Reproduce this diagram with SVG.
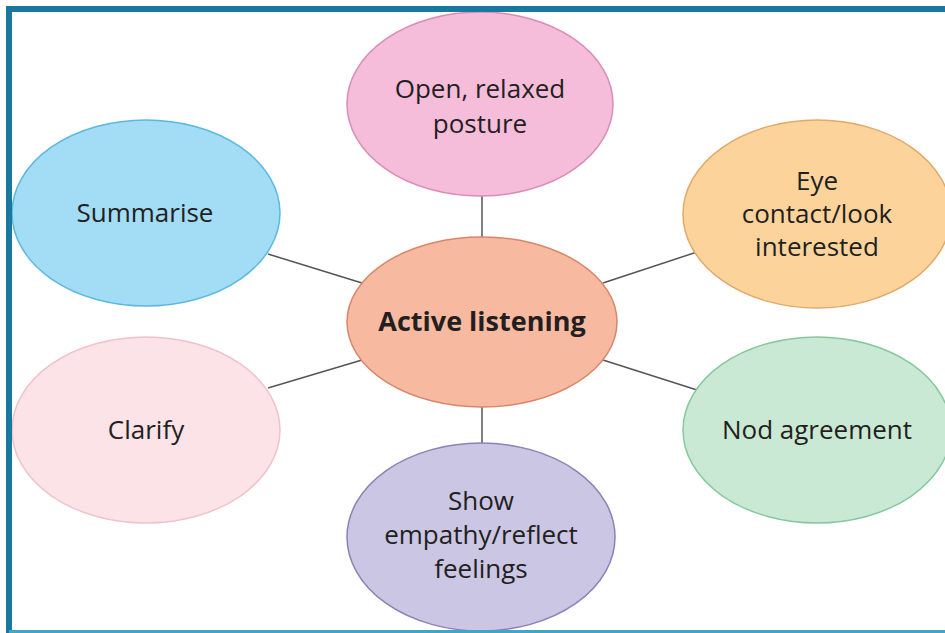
<svg xmlns="http://www.w3.org/2000/svg" width="945" height="633" viewBox="0 0 945 633">
<style>
.t{font-family:"Open Sans","Liberation Sans",sans-serif;font-size:26px;fill:#231f20;text-anchor:middle}
.b{font-weight:bold;font-size:27px}
.c{stroke:#555;stroke-width:1.5;fill:none}
.n{stroke-width:1.5}
</style>
<rect x="0" y="0" width="945" height="633" fill="#fff"/>
<g id="connectors">
<line class="c" x1="482" y1="196" x2="482" y2="238"/>
<line class="c" x1="482" y1="407" x2="482" y2="444"/>
<line class="c" x1="268" y1="254" x2="362" y2="283"/>
<line class="c" x1="268" y1="388" x2="362" y2="360"/>
<line class="c" x1="603" y1="283" x2="697" y2="252"/>
<line class="c" x1="603" y1="360" x2="697" y2="390"/>
</g>
<g id="posture">
<ellipse class="n" cx="480" cy="104" rx="133" ry="92" fill="#f6bddb" stroke="#d98cb6"/>
<text class="t" x="480" y="98">Open, relaxed</text>
<text class="t" x="480" y="133">posture</text>
</g>
<g id="summarise">
<ellipse class="n" cx="146" cy="213" rx="134" ry="93" fill="#a3dcf5" stroke="#5cb8e0"/>
<text class="t" x="145" y="222">Summarise</text>
</g>
<g id="eye">
<ellipse class="n" cx="817" cy="214" rx="134" ry="94" fill="#fcd49b" stroke="#e2a86a"/>
<text class="t" x="817" y="190">Eye</text>
<text class="t" x="817" y="223">contact/look</text>
<text class="t" x="817" y="256">interested</text>
</g>
<g id="center">
<ellipse class="n" cx="482" cy="322" rx="135" ry="85" fill="#f8b9a1" stroke="#d8866a"/>
<text class="t b" x="482" y="331">Active listening</text>
</g>
<g id="clarify">
<ellipse class="n" cx="146" cy="430" rx="134" ry="93" fill="#fbe3e7" stroke="#f0c2ca"/>
<text class="t" x="146" y="439">Clarify</text>
</g>
<g id="nod">
<ellipse class="n" cx="817" cy="430" rx="134" ry="93" fill="#cae9d5" stroke="#84c89c"/>
<text class="t" x="817" y="439">Nod agreement</text>
</g>
<g id="empathy">
<ellipse class="n" cx="481" cy="537" rx="134" ry="94" fill="#cac6e4" stroke="#8a82b8"/>
<text class="t" x="481" y="510">Show</text>
<text class="t" x="481" y="544">empathy/reflect</text>
<text class="t" x="481" y="578">feelings</text>
</g>
<path d="M9 633 V9 H945" fill="none" stroke="#1878a0" stroke-width="6"/>
<line x1="9" y1="631.5" x2="945" y2="631.5" stroke="#3fa6c8" stroke-width="3"/>
</svg>
